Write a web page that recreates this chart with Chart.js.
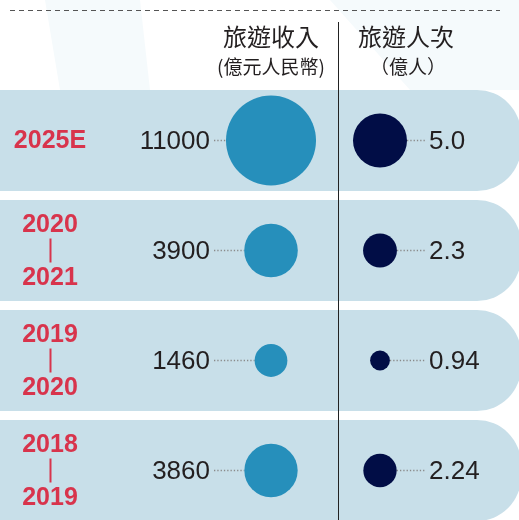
<!DOCTYPE html>
<html>
<head>
<meta charset="utf-8">
<script src="https://cdn.jsdelivr.net/npm/chart.js@4"></script>
<style>
    html, body { margin: 0; padding: 0; background: #ffffff; }
    #chart { display: block; }
</style>
</head>
<body>
<canvas id="chart" width="519" height="520"></canvas>
<script>
// Data
const periods = [['2025E'], ['2020', '2021'], ['2019', '2020'], ['2018', '2019']];
const incomeValues = [11000, 3900, 1460, 3860];   // 億元人民幣
const visitorValues = [5.0, 2.3, 0.94, 2.24];     // 億人
const incomeLabels = ['11000', '3900', '1460', '3860'];
const visitorLabels = ['5.0', '2.3', '0.94', '2.24'];
const headers = {
    income: ['旅遊收入', '(億元人民幣)'],
    visitors: ['旅遊人次', '（億人）']
};

// Colours
const bandColor = '#c8dfe9';
const incomeColor = '#268fbb';
const visitorColor = '#010d46';
const yearColor = '#d8344c';
const textColor = '#231f20';

// Bubble sizes: area scaled for income, slightly steeper for visitors
const maxIncome = Math.max(...incomeValues);
const maxVisitors = Math.max(...visitorValues);
const incomeRadius = v => 45 * Math.sqrt(v / maxIncome);
const visitorRadius = v => 27 * Math.pow(v / maxVisitors, 0.6);

const incomePoints = incomeValues.map((v, i) => ({ x: 1, y: i, r: incomeRadius(v) }));
const visitorPoints = visitorValues.map((v, i) => ({ x: 2, y: i, r: visitorRadius(v) }));

const NUM_FONT = '26px "Liberation Sans", Arial, sans-serif';
const YEAR_FONT = 'bold 25px "Liberation Sans", Arial, sans-serif';
const CJK = '"Noto Sans CJK TC", "Noto Sans CJK SC", sans-serif';

function dotted(ctx, x1, x2, y) {
    ctx.save();
    ctx.strokeStyle = '#8a8a8a';
    ctx.lineWidth = 1.3;
    ctx.setLineDash([1.3, 2]);
    ctx.beginPath();
    ctx.moveTo(x1, y);
    ctx.lineTo(x2, y);
    ctx.stroke();
    ctx.restore();
}

// Background, row bands, headers and rules
const backdrop = {
    id: 'backdrop',
    beforeDatasetsDraw(chart) {
        const ctx = chart.ctx;
        const yScale = chart.scales.y;
        const W = chart.width;
        ctx.save();

        // faint background shapes
        ctx.fillStyle = '#f5fafc';
        ctx.beginPath();
        ctx.moveTo(45, 0); ctx.lineTo(140, 0); ctx.lineTo(150, 90); ctx.lineTo(60, 90);
        ctx.closePath();
        ctx.fill();
        ctx.beginPath();
        ctx.moveTo(330, 0); ctx.lineTo(519, 0); ctx.lineTo(519, 90); ctx.lineTo(410, 90);
        ctx.closePath();
        ctx.fill();

        // dashed rule on top
        ctx.strokeStyle = '#555';
        ctx.lineWidth = 1.2;
        ctx.setLineDash([5, 4]);
        ctx.beginPath();
        ctx.moveTo(10, 10.5);
        ctx.lineTo(500, 10.5);
        ctx.stroke();
        ctx.setLineDash([]);

        // row bands
        ctx.fillStyle = bandColor;
        periods.forEach((p, i) => {
            const yc = yScale.getPixelForValue(i);
            ctx.beginPath();
            ctx.roundRect(0, yc - 50.5, W + 2, 101, [0, 44, 44, 0]);
            ctx.fill();
        });

        // headers
        ctx.fillStyle = textColor;
        ctx.textAlign = 'center';
        ctx.textBaseline = 'middle';
        ctx.font = '24px ' + CJK;
        ctx.fillText(headers.income[0], 271, 37);
        ctx.fillText(headers.visitors[0], 406, 37);
        ctx.font = '19px ' + CJK;
        ctx.fillText(headers.income[1], 271, 67);
        ctx.fillText(headers.visitors[1], 408, 67);

        // divider
        ctx.strokeStyle = '#222';
        ctx.lineWidth = 1;
        ctx.beginPath();
        ctx.moveTo(338.5, 22);
        ctx.lineTo(338.5, chart.height);
        ctx.stroke();

        // connectors
        const incMeta = chart.getDatasetMeta(0).data;
        const visMeta = chart.getDatasetMeta(1).data;
        periods.forEach((p, i) => {
            const a = incMeta[i], b = visMeta[i];
            dotted(ctx, 214, a.x - a.options.radius, a.y);
            dotted(ctx, b.x + b.options.radius, 425, b.y);
        });
        ctx.restore();
    },
    afterDatasetsDraw(chart) {
        const ctx = chart.ctx;
        const yScale = chart.scales.y;
        ctx.save();
        ctx.textBaseline = 'middle';
        periods.forEach((p, i) => {
            const yc = yScale.getPixelForValue(i);

            // period labels
            ctx.fillStyle = yearColor;
            ctx.textAlign = 'center';
            ctx.font = YEAR_FONT;
            if (p.length === 1) {
                ctx.fillText(p[0], 50, yc + 1);
            } else {
                ctx.fillText(p[0], 50, yc - 25);
                ctx.fillText(p[1], 50, yc + 28);
                ctx.strokeStyle = yearColor;
                ctx.lineWidth = 2;
                ctx.beginPath();
                ctx.moveTo(50.5, yc - 12);
                ctx.lineTo(50.5, yc + 12);
                ctx.stroke();
            }

            // value labels
            ctx.fillStyle = textColor;
            ctx.font = NUM_FONT;
            ctx.textAlign = 'right';
            ctx.fillText(incomeLabels[i], 210, yc + 1);
            ctx.textAlign = 'left';
            ctx.fillText(visitorLabels[i], 429, yc + 1);
        });
        ctx.restore();
    }
};

const ctx = document.getElementById('chart').getContext('2d');
new Chart(ctx, {
    type: 'bubble',
    data: {
        datasets: [{
            label: '旅遊收入',
            data: incomePoints,
            backgroundColor: incomeColor,
            borderWidth: 0,
            hoverRadius: 0
        }, {
            label: '旅遊人次',
            data: visitorPoints,
            backgroundColor: visitorColor,
            borderWidth: 0,
            hoverRadius: 0
        }]
    },
    options: {
        responsive: false,
        animation: false,
        layout: { padding: 0, autoPadding: false },
        plugins: {
            legend: { display: false },
            tooltip: { enabled: false }
        },
        scales: {
            x: { type: 'linear', display: false, min: -1.4862, max: 3.2752 },
            y: { type: 'linear', display: false, reverse: true, min: -1.2773, max: 3.45 }
        }
    },
    plugins: [backdrop]
});
</script>
</body>
</html>
